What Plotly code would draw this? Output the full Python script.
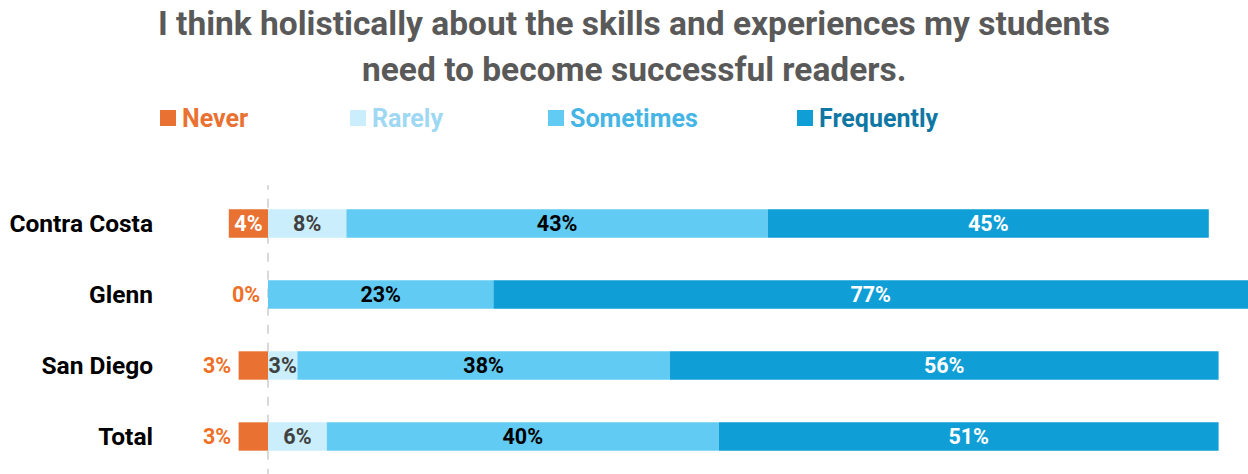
import plotly.graph_objects as go

categories = ["Contra Costa", "Glenn", "San Diego", "Total"]
never = [4, 0, 3, 3]
rarely = [8, 0, 3, 6]
sometimes = [43, 23, 38, 40]
frequently = [45, 77, 56, 51]

series_names = ["Never", "Rarely", "Sometimes", "Frequently"]
bar_colors = ["#E97132", "#CAEEFB", "#61CBF3", "#0F9ED5"]
legend_text_colors = ["#E97132", "#9ED8F2", "#45B5E5", "#0F77A3"]
title_lines = ["I think holistically about the skills and experiences my students",
               "need to become successful readers."]

W, H = 1248, 474
ML, MR, MT, MB = 170, 0, 188, 2
PW = W - ML - MR
PH = H - MT - MB

LABEL_FONT = "Roboto, Arial, sans-serif"
LABEL_SIZE = 21.5


def pct(vals, min_show=1):
    return [f"{v}%" if v >= min_show else "" for v in vals]


fig = go.Figure()

# Never (negative side)
fig.add_trace(go.Bar(
    y=categories, x=[-v for v in never], orientation="h", name="Never",
    marker=dict(color=bar_colors[0], line=dict(width=0)),
    text=[f"{v}%" if v >= 4 else "" for v in never],
    textposition="inside", insidetextanchor="middle", constraintext="none",
    textfont=dict(family=LABEL_FONT, size=LABEL_SIZE, color="white", weight="bold"),
    showlegend=False, hoverinfo="skip",
))
fig.add_trace(go.Bar(
    y=categories, x=rarely, orientation="h", name="Rarely",
    marker=dict(color=bar_colors[1], line=dict(width=0)),
    text=pct(rarely), textposition="inside", insidetextanchor="middle", constraintext="none",
    textfont=dict(family=LABEL_FONT, size=LABEL_SIZE, color="#404040", weight="bold"),
    showlegend=False, hoverinfo="skip",
))
fig.add_trace(go.Bar(
    y=categories, x=sometimes, orientation="h", name="Sometimes",
    marker=dict(color=bar_colors[2], line=dict(width=0)),
    text=pct(sometimes), textposition="inside", insidetextanchor="middle", constraintext="none",
    textfont=dict(family=LABEL_FONT, size=LABEL_SIZE, color="black", weight="bold"),
    showlegend=False, hoverinfo="skip",
))
fig.add_trace(go.Bar(
    y=categories, x=frequently, orientation="h", name="Frequently",
    marker=dict(color=bar_colors[3], line=dict(width=0)),
    text=pct(frequently), textposition="inside", insidetextanchor="middle", constraintext="none",
    textfont=dict(family=LABEL_FONT, size=LABEL_SIZE, color="white", weight="bold"),
    showlegend=False, hoverinfo="skip",
))

annotations = []
# Outside labels for small "Never" values
for cat, v in zip(categories, never):
    if v < 4:
        annotations.append(dict(
            x=-v, y=cat, xref="x", yref="y", text=f"<b>{v}%</b>", showarrow=False,
            xanchor="right", yanchor="middle", xshift=-6,
            font=dict(family=LABEL_FONT, size=LABEL_SIZE, color="#EE7027"),
        ))


def py(pix):
    return 1 + (MT - pix) / PH


def px(pix):
    return (pix - ML) / PW


# Title
for line, yc in zip(title_lines, [23, 70]):
    annotations.append(dict(
        x=px(634), y=py(yc), xref="paper", yref="paper", text=f"<b>{line}</b>",
        showarrow=False, xanchor="center", yanchor="middle",
        font=dict(family="Roboto, Arial, sans-serif", size=33.5, color="#595959"),
    ))

# Manual legend
shapes = []
sq_x = [160, 350, 548, 797]
for name, sx, c, tc in zip(series_names, sq_x, bar_colors, legend_text_colors):
    shapes.append(dict(type="rect", xref="paper", yref="paper",
                       x0=px(sx), x1=px(sx + 16), y0=py(126), y1=py(110),
                       fillcolor=c, line=dict(width=0)))
    annotations.append(dict(
        x=px(sx + 20), y=py(118), xref="paper", yref="paper", text=f"<b>{name}</b>",
        showarrow=False, xanchor="left", yanchor="middle",
        font=dict(family="Roboto, Arial, sans-serif", size=25, color=tc),
    ))

# Dashed zero line
shapes.append(dict(type="line", xref="x", yref="paper", x0=0, x1=0, y0=-0.02, y1=1.01,
                   line=dict(color="#D9D9D9", width=2, dash="dash"), layer="below"))

fig.update_layout(
    width=W, height=H,
    margin=dict(l=ML, r=MR, t=MT, b=MB, pad=0),
    barmode="relative", bargap=0.6,
    plot_bgcolor="white", paper_bgcolor="white",
    xaxis=dict(range=[-10, 100], showticklabels=False, showgrid=False, zeroline=False,
               showline=False, fixedrange=True),
    yaxis=dict(categoryorder="array", categoryarray=categories, autorange="reversed",
               showgrid=False, zeroline=False, showline=False, ticks="",
               ticklabelstandoff=16,
               tickfont=dict(family=LABEL_FONT, size=24.5, color="black", weight="bold")),
    annotations=annotations, shapes=shapes,
    showlegend=False,
)

fig.write_html("out.html")
